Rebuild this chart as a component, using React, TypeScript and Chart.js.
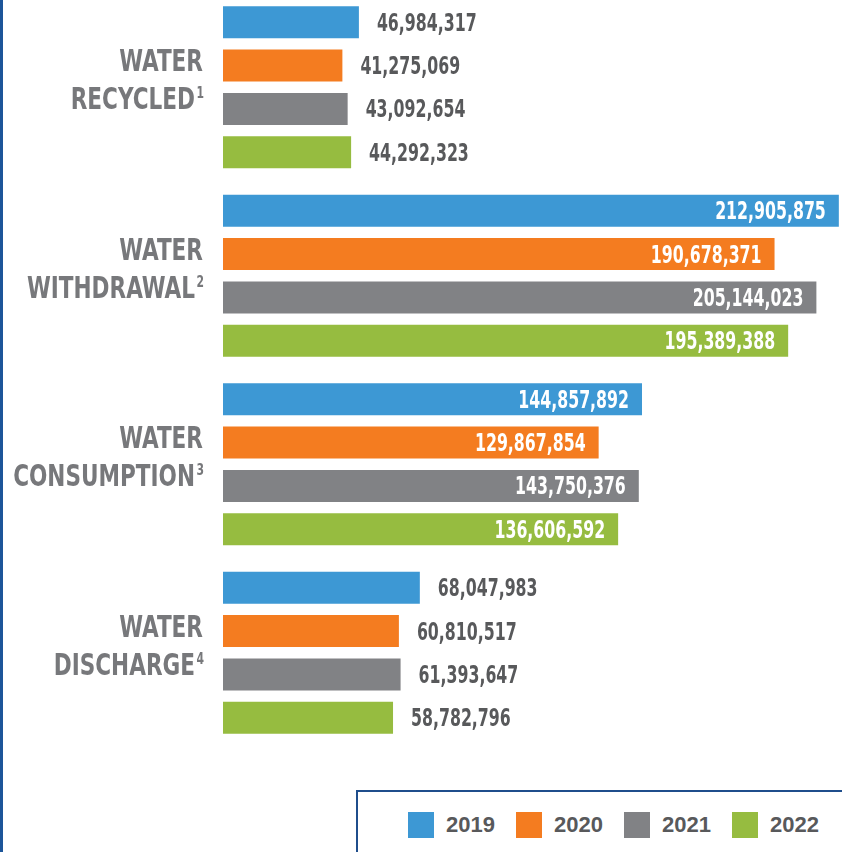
import React, { useEffect, useRef } from "react";
import { Chart, registerables } from "chart.js";

Chart.register(...registerables);

const categoryLine1 = ["WATER", "WATER", "WATER", "WATER"];
const categoryLine2 = ["RECYCLED", "WITHDRAWAL", "CONSUMPTION", "DISCHARGE"];
const footnotes = ["1", "2", "3", "4"];
const years = ["2019", "2020", "2021", "2022"];
const values2019 = [46984317, 212905875, 144857892, 68047983];
const values2020 = [41275069, 190678371, 129867854, 60810517];
const values2021 = [43092654, 205144023, 143750376, 61393647];
const values2022 = [44292323, 195389388, 136606592, 58782796];
const seriesColors = ["#3d98d4", "#f47c20", "#818285", "#96bc40"];

const COND = "'DejaVu Sans Condensed', 'DejaVu Sans', sans-serif";
const VALUE_SX = 0.73;
const LABEL_SX = 0.8;

function drawSx(ctx: CanvasRenderingContext2D, text: string, x: number, y: number, align: CanvasTextAlign, sx: number) {
  ctx.save();
  ctx.translate(x, y);
  ctx.scale(sx, 1);
  ctx.textAlign = align;
  ctx.fillText(text, 0, 0);
  ctx.restore();
}

const labelPlugin = {
  id: "customLabels",
  afterDatasetsDraw(chart: any) {
    const ctx = chart.ctx as CanvasRenderingContext2D;
    ctx.save();
    ctx.textBaseline = "alphabetic";
    // value labels
    ctx.font = `bold 24px ${COND}`;
    chart.data.datasets.forEach((ds: any, di: number) => {
      const meta = chart.getDatasetMeta(di);
      meta.data.forEach((el: any, i: number) => {
        const v = ds.data[i] as number;
        const txt = v.toLocaleString("en-US");
        const y = el.y + 8.5;
        if (v > 100000000) {
          ctx.fillStyle = "#ffffff";
          drawSx(ctx, txt, el.x - 13, y, "right", VALUE_SX);
        } else {
          ctx.fillStyle = "#58595b";
          drawSx(ctx, txt, el.x + 18, y, "left", VALUE_SX);
        }
      });
    });
    // category labels
    const yScale = chart.scales.y;
    const right = 204;
    categoryLine1.forEach((l1, i) => {
      const cy = yScale.getPixelForValue(i);
      ctx.fillStyle = "#77787b";
      ctx.font = `bold 30px ${COND}`;
      drawSx(ctx, l1, right - 1, cy - 16, "right", LABEL_SX);
      ctx.font = `bold 15px ${COND}`;
      const sw = ctx.measureText(footnotes[i]).width * LABEL_SX;
      drawSx(ctx, footnotes[i], right - sw, cy + 11, "left", LABEL_SX);
      ctx.font = `bold 30px ${COND}`;
      drawSx(ctx, categoryLine2[i], right - sw - 1.5, cy + 22, "right", LABEL_SX);
    });
    ctx.restore();
  },
};

export default function App() {
  const canvasRef = useRef<HTMLCanvasElement | null>(null);

  useEffect(() => {
    if (!canvasRef.current) return;
    const seriesValues = [values2019, values2020, values2021, values2022];
    const chart = new Chart(canvasRef.current, {
      type: "bar",
      data: {
        labels: categoryLine2,
        datasets: years.map((y, i) => ({
          label: y,
          data: seriesValues[i],
          backgroundColor: seriesColors[i],
          borderWidth: 0,
          categoryPercentage: 0.919,
          barPercentage: 0.739,
        })),
      },
      options: {
        indexAxis: "y",
        responsive: false,
        animation: false,
        devicePixelRatio: 1,
        layout: { padding: { left: 223, right: 0, top: 1, bottom: 1 } },
        plugins: {
          legend: { display: false },
          tooltip: { enabled: false },
        },
        scales: {
          x: { display: false, min: 0, max: 214000000 },
          y: { display: false },
        },
      },
      plugins: [labelPlugin],
    } as any);
    return () => chart.destroy();
  }, []);

  return (
    <div
      style={{
        position: "absolute",
        left: 0,
        top: 0,
        width: 842,
        height: 852,
        overflow: "hidden",
        background: "#ffffff",
      }}
    >
      <div
        style={{
          position: "absolute",
          left: 0,
          top: 0,
          width: 3,
          height: 852,
          background: "#1c5599",
        }}
      />
      <canvas
        ref={canvasRef}
        width={842}
        height={756}
        style={{ position: "absolute", left: 0, top: -8, width: 842, height: 756 }}
      />
      <div
        style={{
          position: "absolute",
          left: 356,
          top: 790,
          width: 600,
          height: 200,
          border: "2px solid #1f4e8c",
          boxSizing: "border-box",
        }}
      />
      <div
        style={{
          position: "absolute",
          left: 408,
          top: 812,
          display: "flex",
          alignItems: "center",
          height: 26,
        }}
      >
        {years.map((y, i) => (
          <div
            key={y}
            style={{ display: "flex", alignItems: "center", width: 108 }}
          >
            <div style={{ width: 26, height: 26, background: seriesColors[i] }} />
            <span
              style={{
                marginLeft: 12,
                font: "bold 22px 'Liberation Sans', Arial, sans-serif",
                color: "#58595b",
                lineHeight: "26px",
              }}
            >
              {y}
            </span>
          </div>
        ))}
      </div>
    </div>
  );
}
